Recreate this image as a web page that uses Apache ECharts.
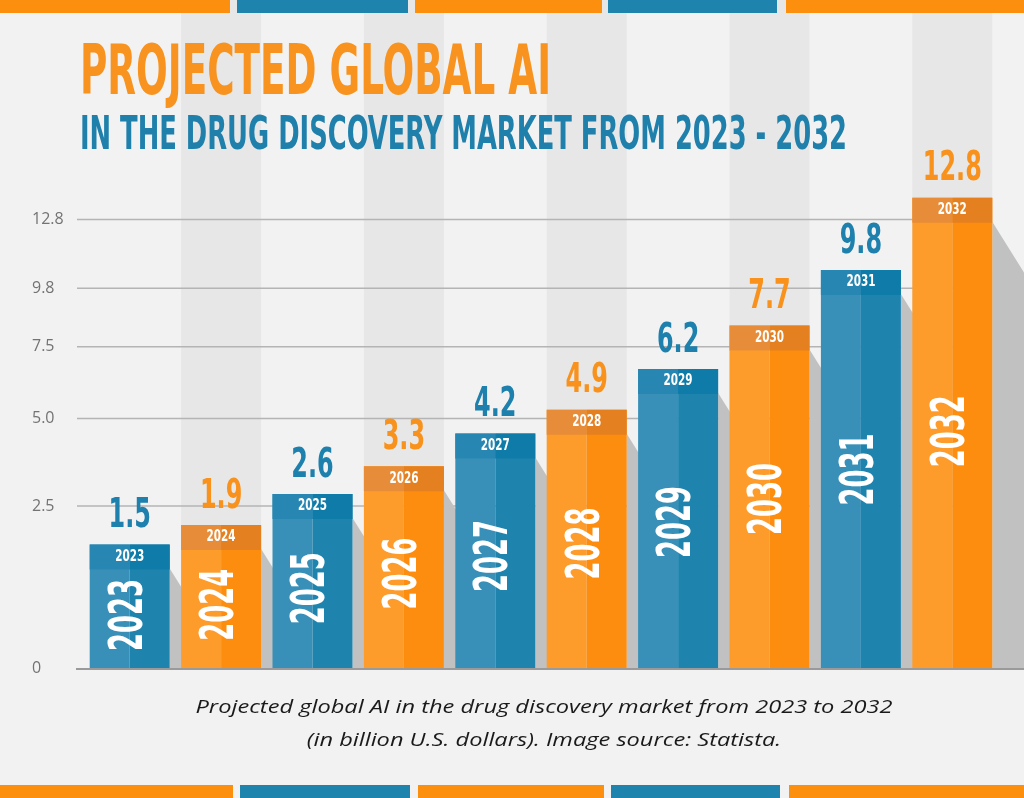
<!DOCTYPE html>
<html>
<head>
<meta charset="utf-8">
<script src="https://cdn.jsdelivr.net/npm/echarts@6/dist/echarts.min.js"></script>
<style>
  html, body { margin: 0; padding: 0; background: #f2f2f2; }
  #chart { width: 1024px; height: 798px; }
</style>
</head>
<body>
<div id="chart"></div>
<script>
// ---------------- DATA ----------------
const YEARS = ['2023', '2024', '2025', '2026', '2027', '2028', '2029', '2030', '2031', '2032'];
const VALUES = [1.5, 1.9, 2.6, 3.3, 4.2, 4.9, 6.2, 7.7, 9.8, 12.8];
const TICK_VALUES = [0, 2.5, 5.0, 7.5, 9.8, 12.8];
const TICK_LABELS = ['0', '2.5', '5.0', '7.5', '9.8', '12.8'];
const TITLE_LINE_1 = 'PROJECTED GLOBAL AI';
const TITLE_LINE_2 = 'IN THE DRUG DISCOVERY MARKET FROM 2023 - 2032';
const CAPTION_LINE_1 = 'Projected global AI in the drug discovery market from 2023 to 2032';
const CAPTION_LINE_2 = '(in billion U.S. dollars). Image source: Statista.';

// ---------------- SCALE (the source infographic uses a compressed, power-like value scale) ----------------
const EXP = 0.624;
const tf = v => Math.pow(v, EXP);

// ---------------- LAYOUT / STYLE ----------------
const W = 1024, H = 798;
const GRID = { left: 84, right: 26, top: 100, bottom: 130 };
const GRID_H = H - GRID.top - GRID.bottom;
const BAR_PX_PER_UNIT = 95.8;   // bars axis
const TICK_PX_PER_UNIT = 91.4;  // tick/grid axis
const BAR_W = 80, BAND_H = 25;
const COND = '"Liberation Sans Narrow", "DejaVu Sans Condensed", "Liberation Sans", Arial, sans-serif';
const BLUE = { l: '#3890b8', r: '#1e84ae', bl: '#2787b2', br: '#0e7ba8', text: '#1e80ac' };
const ORANGE = { l: '#fe9c2b', r: '#fd8d0e', bl: '#e78d39', br: '#e4801f', text: '#f8921c' };
const PAL = [BLUE, ORANGE];
const STRIP_ORANGE = '#fd8f0e', STRIP_BLUE = '#1e83ad';
const TOP_STRIPS = [[0, 230, 0], [237, 408, 1], [415, 602, 0], [608, 777, 1], [786, 1024, 0]];
const BOTTOM_STRIPS = [[0, 233, 0], [240, 410, 1], [418, 604, 0], [611, 780, 1], [789, 1024, 0]];

// text measurement helper for condensed display type
const mctx = document.createElement('canvas').getContext('2d');
function textW(text, font) { mctx.font = font; return mctx.measureText(text).width; }
function fit(text, font, target) { return target / textW(text, font); }

const T1_FONT = `bold 70px ${COND}`;
const T2_FONT = `bold 46px ${COND}`;
const VAL_FONT = `bold 41px ${COND}`;
const IN_FONT = `bold 46px ${COND}`;
const BAND_FONT = `bold 15px ${COND}`;
const CAP_FONT = `italic 18px "Open Sans", "Noto Sans", sans-serif`;
const S_T1 = fit(TITLE_LINE_1, T1_FONT, 471);
const S_T2 = fit(TITLE_LINE_2, T2_FONT, 767);
const S_VAL = fit('12.8', VAL_FONT, 59);
const S_IN = fit('2032', IN_FONT, 72);
const S_BAND = fit('2023', BAND_FONT, 29);
const S_CAP = fit(CAPTION_LINE_1, CAP_FONT, 697);

const chart = echarts.init(document.getElementById('chart'), null, { renderer: 'canvas' });

function tickLabel(val) {
  for (let k = 0; k < TICK_VALUES.length; k++) {
    if (Math.abs(tf(TICK_VALUES[k]) - val) < 1e-6) return TICK_LABELS[k];
  }
  return '';
}

const graphics = [];
TOP_STRIPS.forEach(s => graphics.push({
  type: 'rect', z: 100, shape: { x: s[0], y: 0, width: s[1] - s[0], height: 13 },
  style: { fill: s[2] ? STRIP_BLUE : STRIP_ORANGE }
}));
BOTTOM_STRIPS.forEach(s => graphics.push({
  type: 'rect', z: 100, shape: { x: s[0], y: 785, width: s[1] - s[0], height: 13 },
  style: { fill: s[2] ? STRIP_BLUE : STRIP_ORANGE }
}));
graphics.push({
  type: 'text', z: 100, x: 80, y: 76, scaleX: S_T1,
  style: { text: TITLE_LINE_1, font: T1_FONT, fill: '#f7931e', align: 'left', verticalAlign: 'middle' }
});
graphics.push({
  type: 'text', z: 100, x: 80, y: 137, scaleX: S_T2,
  style: { text: TITLE_LINE_2, font: T2_FONT, fill: '#1f80ac', align: 'left', verticalAlign: 'middle' }
});
graphics.push({
  type: 'text', z: 100, x: 544, y: 708, scaleX: S_CAP,
  style: { text: CAPTION_LINE_1, font: CAP_FONT, fill: '#1a1a1a', align: 'center', verticalAlign: 'middle' }
});
graphics.push({
  type: 'text', z: 100, x: 544, y: 741, scaleX: S_CAP,
  style: { text: CAPTION_LINE_2, font: CAP_FONT, fill: '#1a1a1a', align: 'center', verticalAlign: 'middle' }
});

const option = {
  backgroundColor: '#f2f2f2',
  animation: false,
  grid: { left: GRID.left, right: GRID.right, top: GRID.top, bottom: GRID.bottom },
  xAxis: { type: 'category', data: YEARS, show: false },
  yAxis: [
    { type: 'value', min: 0, max: GRID_H / BAR_PX_PER_UNIT, show: false },
    {
      type: 'value', min: 0, max: GRID_H / TICK_PX_PER_UNIT, position: 'left',
      axisLine: { show: false }, axisTick: { show: false }, splitLine: { show: false },
      axisLabel: {
        customValues: TICK_VALUES.map(tf),
        formatter: tickLabel,
        align: 'left', margin: 52, color: '#737373', fontSize: 16,
        fontFamily: '"Open Sans", "Noto Sans", sans-serif'
      }
    }
  ],
  graphic: graphics,
  series: [
    // background stripes behind every second year
    {
      type: 'custom', z: 0, silent: true,
      data: YEARS.map((y, i) => [i, 0]),
      renderItem(params, api) {
        const i = params.dataIndex;
        if (i % 2 === 0) return null;
        const c = api.coord([i, 0]);
        return { type: 'rect', shape: { x: c[0] - BAR_W / 2, y: 0, width: BAR_W, height: c[1] }, style: { fill: '#e7e7e7' } };
      }
    },
    // grid lines at the tick values
    {
      type: 'custom', z: 1, silent: true, yAxisIndex: 1,
      data: TICK_VALUES.filter(v => v > 0).map(v => [0, tf(v)]),
      renderItem(params, api) {
        const p = api.coord([0, api.value(1)]);
        const end = api.coord([YEARS.length - 1, 0]);
        return { type: 'line', shape: { x1: GRID.left - 7, y1: p[1], x2: end[0], y2: p[1] }, style: { stroke: '#b4b4b4', lineWidth: 1.5 } };
      }
    },
    // bars
    {
      type: 'custom', z: 2, silent: true,
      data: VALUES.map((v, i) => [i, tf(v)]),
      renderItem(params, api) {
        const i = params.dataIndex;
        const top = api.coord([i, api.value(1)]);
        const base = api.coord([i, 0]);
        const cx = top[0], ty = top[1], by = base[1];
        const hw = BAR_W / 2, h = by - ty;
        const pal = PAL[i % 2];
        const sx = cx + hw, sy = ty + 24;
        const midY = (ty + BAND_H + by) / 2 - 14 * h / 463;
        return {
          type: 'group',
          children: [
            { type: 'polygon', shape: { points: [[sx, sy], [sx + 45, sy + 45 * 1.6], [sx + 45, by], [sx, by]] }, style: { fill: '#c1c1c1' } },
            { type: 'rect', shape: { x: cx - hw, y: ty, width: hw, height: h }, style: { fill: pal.l } },
            { type: 'rect', shape: { x: cx, y: ty, width: hw, height: h }, style: { fill: pal.r } },
            { type: 'rect', shape: { x: cx - hw, y: ty, width: hw, height: BAND_H }, style: { fill: pal.bl } },
            { type: 'rect', shape: { x: cx, y: ty, width: hw, height: BAND_H }, style: { fill: pal.br } },
            { type: 'text', x: cx, y: ty + BAND_H / 2, scaleX: S_BAND,
              style: { text: YEARS[i], font: BAND_FONT, fill: '#ffffff', align: 'center', verticalAlign: 'middle' } },
            { type: 'text', x: cx, y: midY, rotation: Math.PI / 2, scaleX: S_IN,
              style: { text: YEARS[i], font: IN_FONT, fill: '#ffffff', align: 'center', verticalAlign: 'middle' } },
            { type: 'text', x: cx, y: ty - 28, scaleX: S_VAL,
              style: { text: String(VALUES[i]), font: VAL_FONT, fill: pal.text, align: 'center', verticalAlign: 'middle' } }
          ]
        };
      }
    },
    // baseline
    {
      type: 'custom', z: 3, silent: true,
      data: [[0, 0]],
      renderItem(params, api) {
        const p = api.coord([0, 0]);
        return { type: 'line', shape: { x1: GRID.left - 8, y1: p[1] + 1, x2: W, y2: p[1] + 1 }, style: { stroke: '#9a9a9a', lineWidth: 2 } };
      }
    }
  ]
};
chart.setOption(option);
</script>
</body>
</html>
